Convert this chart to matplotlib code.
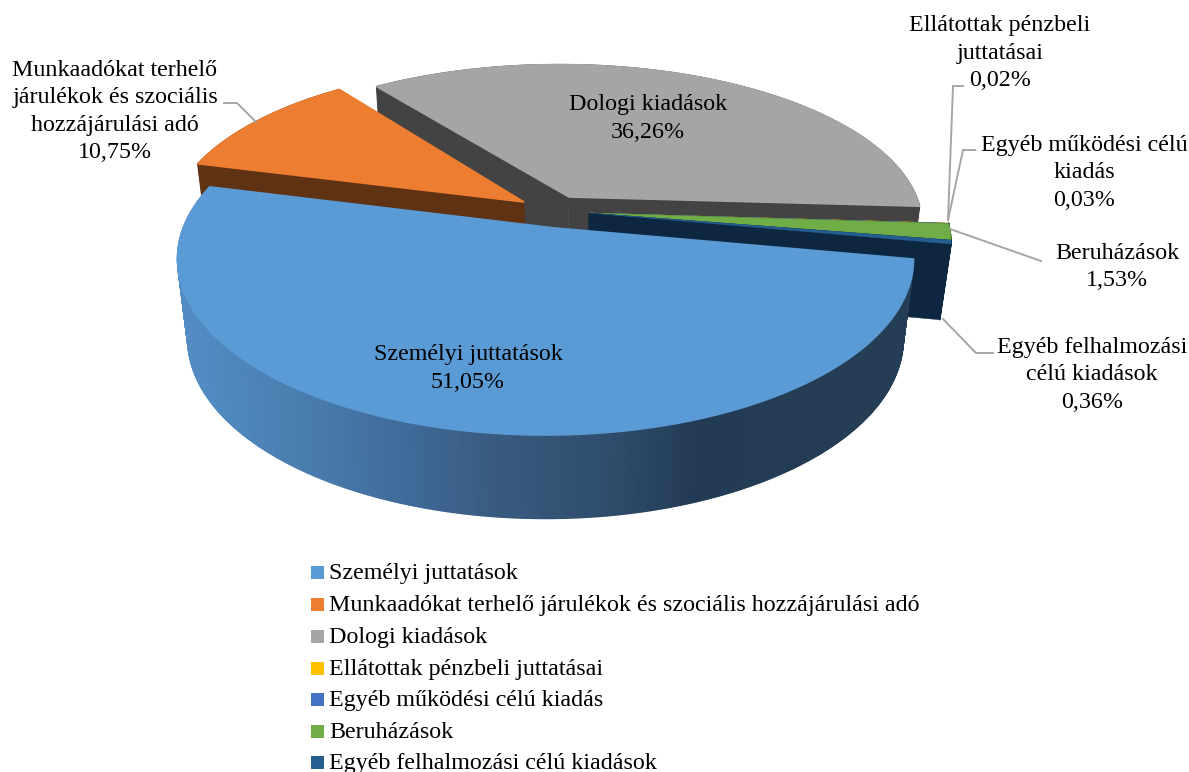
import numpy as np
import matplotlib
matplotlib.use('Agg')
import matplotlib.pyplot as plt
from matplotlib.collections import PolyCollection

plt.rcParams['font.family'] = ['Liberation Serif', 'DejaVu Serif']

names = ['Személyi juttatások',
         'Munkaadókat terhelő járulékok és szociális hozzájárulási adó',
         'Dologi kiadások',
         'Ellátottak pénzbeli juttatásai',
         'Egyéb működési célú kiadás',
         'Beruházások',
         'Egyéb felhalmozási célú kiadások']
values = [51.05, 10.75, 36.26, 0.02, 0.03, 1.53, 0.36]
top_colors = ['#5B9BD5', '#ED7D31', '#A5A5A5', '#FFC000', '#4472C4', '#70AD47', '#255E91']
wall_colors = ['#2E5A85', '#5F3213', '#434343', '#6B5200', '#223A66', '#3A5F24', '#0E2740']

# label text split in lines, centre x, first line y
label_lines = [['Személyi juttatások'],
               ['Munkaadókat terhelő', 'járulékok és szociális', 'hozzájárulási adó'],
               ['Dologi kiadások'],
               ['Ellátottak pénzbeli', 'juttatásai'],
               ['Egyéb működési célú', 'kiadás'],
               ['Beruházások'],
               ['Egyéb felhalmozási', 'célú kiadások']]
label_x = [468, 115, 648, 1000, 1084, 1117, 1092]
label_y = [353, 69, 103, 24, 144, 252, 346]
line_h = 27.5

leaders = {1: [(224, 103), (237, 103), (256, 122)],
           3: [(963, 86), (953, 86), (948, 220)],
           4: [(975, 150), (963, 150), (948, 220)],
           5: [(950, 229), (1041, 261)],
           6: [(943, 319), (976, 353), (993, 353)]}

# pie geometry in pixels
ell_c = np.array([545.5, 259.0])
ell_r = np.array([368.0, 176.0])
apex = np.array([555.0, 228.0])
right_corner = np.array([913.0, 259.0])
shift_x = [0, -31, 14, 34, 34, 34, 34]
shift_y = [0, -26, -31, -15, -15, -15, -15]
# slices further back come out smaller
scale_x = [1, 0.945, 0.985, 1.01, 1.01, 1.01, 1.01]
scale_y = [1, 0.93, 0.913, 1, 1, 1, 1]
depths = [80, 80, 80, 76, 76, 76, 76]
taper = 0.972

# shading of the blue outer wall along x
shade_x = [190, 297, 414, 484, 601, 695, 900]
shade_r = [82, 73, 62, 58, 48, 35, 36]
shade_g = [140, 125, 105, 92, 78, 60, 62]
shade_b = [195, 175, 150, 130, 110, 85, 85]


def boost(p, q):
    r = np.hypot(*q)
    n = q / r
    par = p[0] * n[0] + p[1] * n[1]
    den = 1 + r * par
    a = (par + r) / den
    b = np.sqrt(1 - r ** 2) / den
    return np.array([a * n[0] + b * (p[0] - par * n[0]),
                     a * n[1] + b * (p[1] - par * n[1])])


q0 = (apex - ell_c) / ell_r


def project(t):
    t = np.asarray(t, dtype=float)
    p = boost(np.array([np.cos(t), np.sin(t)]), q0)
    return ell_c[0] + p[0] * ell_r[0], ell_c[1] + p[1] * ell_r[1]


def lower(x, y, depth):
    return ell_c[0] + (x - ell_c[0]) * taper, y + depth + 0.02 * (y - ell_c[1])


back = boost((right_corner - ell_c) / ell_r, -q0)
t0 = np.arctan2(back[1], back[0])
edges = t0 + np.cumsum([0] + values) / sum(values) * 2 * np.pi

fig = plt.figure(figsize=(11.89, 7.72), dpi=100)
ax = fig.add_axes([0, 0, 1, 1])
ax.set_xlim(0, 1189)
ax.set_ylim(772, 0)
ax.axis('off')

order = [2, 3, 4, 5, 6, 1, 0]
for z, i in enumerate(order):
    ts = np.linspace(edges[i], edges[i + 1], max(4, int(values[i] * 8)))
    x, y = project(ts)
    x = apex[0] + (x - apex[0]) * scale_x[i] + shift_x[i]
    y = apex[1] + (y - apex[1]) * scale_y[i] + shift_y[i]
    ax_, ay_ = apex[0] + shift_x[i], apex[1] + shift_y[i]
    xb, yb = lower(x, y, depths[i])
    axb, ayb = lower(ax_, ay_, depths[i])

    quads = [[(x[k], y[k]), (x[k + 1], y[k + 1]), (xb[k + 1], yb[k + 1]), (xb[k], yb[k])]
             for k in range(len(x) - 1)]
    if i == 0:
        xm = (x[:-1] + x[1:]) / 2
        cols = np.column_stack([np.interp(xm, shade_x, shade_r),
                                np.interp(xm, shade_x, shade_g),
                                np.interp(xm, shade_x, shade_b)]) / 255
    else:
        cols = [wall_colors[i]] * len(quads)
    ax.add_collection(PolyCollection(quads, facecolors=cols, edgecolors=cols,
                                     linewidths=1.0, zorder=10 + z * 3))
    if i != 0:
        for j in (0, -1):
            ax.fill([ax_, x[j], xb[j], axb], [ay_, y[j], yb[j], ayb],
                    color=wall_colors[i], lw=0.3, zorder=11 + z * 3)
    top_lw = 1.2 if values[i] > 5 else 0.3
    ax.fill(np.r_[ax_, x], np.r_[ay_, y], color=top_colors[i], lw=top_lw, zorder=12 + z * 3)

for i, pts in leaders.items():
    px, py = zip(*pts)
    ax.plot(px, py, color='#A6A6A6', lw=1.4, zorder=40, solid_joinstyle='miter')

fs = 17.3
for i, lines in enumerate(label_lines):
    pct = ('%.2f%%' % values[i]).replace('.', ',')
    for k, s in enumerate(lines + [pct]):
        ax.text(label_x[i], label_y[i] + 7 + k * line_h, s, ha='center', va='baseline',
                fontsize=fs, color='#000000', zorder=50)

legend_y = [572.5, 604, 636, 668, 699, 731, 762]
for i, s in enumerate(names):
    ax.add_patch(plt.Rectangle((311, legend_y[i] - 6.5), 13, 13, color=top_colors[i], lw=0))
    ax.text(329, legend_y[i] + 7, s, ha='left', va='baseline', fontsize=fs, color='#000000')

fig.savefig('out.png', dpi=100)
